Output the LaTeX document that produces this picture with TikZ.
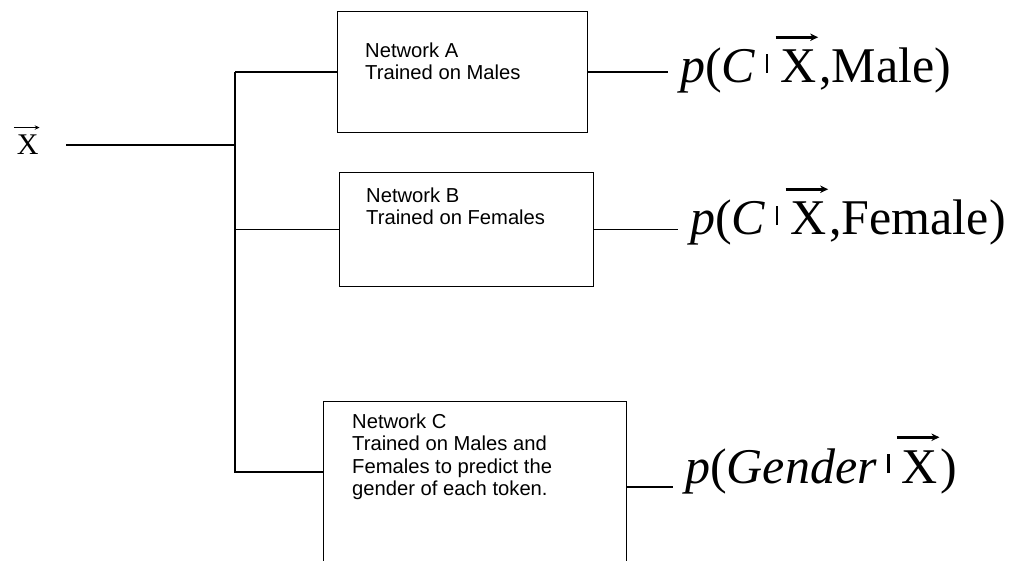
\documentclass[tikz,border=0pt]{standalone}
\usepackage{fontspec}
\setmainfont{Liberation Serif}
\newfontfamily\boxfont{Liberation Sans}
\usetikzlibrary{calc,arrows.meta}

\newcommand\vx{\tikz[baseline=(vxX.base)]{\node[inner sep=0pt, outer sep=0pt, anchor=base] (vxX) at (0,0) {X};
  \draw[line width=0.05em, -{Stealth[length=0.16em, width=0.15em]}] ([xshift=-0.1em, yshift=0.26em]vxX.north west) -- ([xshift=0.03em, yshift=0.26em]vxX.north east);}}
\newcommand\cbar{\hspace{0.2em}\raisebox{0.2em}{\rule{2.6pt}{0.38em}}\hspace{0.12em}}

\begin{document}
\begin{tikzpicture}[x=1pt,y=1pt,
  netbox/.style={draw, line width=1.4pt, inner sep=0pt, anchor=north west},
  boxtext/.style={font=\boxfont\fontsize{20.2}{22.5}\selectfont, align=left, anchor=north west, inner sep=0pt},
  outlabel/.style={font=\fontsize{50}{60}\selectfont, anchor=base west, inner ysep=0pt, inner xsep=12pt},
  wire/.style={line width=1.4pt}]
\clip (0,0) rectangle (1016,-561);
\useasboundingbox (0,0) rectangle (1016,-561);

\node[netbox, minimum width=250pt, minimum height=121pt] (A) at (337,-11) {};
\node[netbox, minimum width=254pt, minimum height=114pt] (B) at (339,-172) {};
\node[netbox, minimum width=303pt, minimum height=220pt] (C) at (323,-401) {};

\node[boxtext] (At) at (365,-42.5) {Network A\\Trained on Males};
\node[boxtext] (Bt) at (366,-187.5) {Network B\\Trained on Females};
\node[boxtext] (Ct) at (352,-413.5) {Network C\\Trained on Males and\\Females to predict the\\gender of each token.};

\node[outlabel] (L1) at (668,-83) {\textit{p}(\textit{C}\cbar\vx,Male)};
\node[outlabel] (L2) at (678,-235) {\textit{p}(\textit{C}\cbar\vx,Female)};
\node[outlabel] (L3) at (673,-483) {\textit{p}(\textit{Gender}\cbar\vx)};

\node[font=\fontsize{30}{36}\selectfont, anchor=base west, inner sep=0pt] (xin) at (13,-155) {\vx};

\coordinate (j0) at (235,-145);
\coordinate (jA) at (A.west -| j0);
\coordinate (jB) at (B.west -| j0);
\coordinate (jC) at (235,-472);
\coordinate (cO) at ($(C.north east)+(0,-86)$);

\draw[wire] ([xshift=26pt]xin.east |- j0) -- (j0);
\draw[wire] (jA) -- (A.west);
\draw[wire] (jB) -- (B.west);
\draw[wire] (jA) -- (jC) -- (jC -| C.west);
\draw[wire] (A.east) -- (A.east -| L1.west);
\draw[wire] (B.east) -- (B.east -| L2.west);
\draw[wire] (cO) -- (cO -| L3.west);
\end{tikzpicture}
\end{document}
